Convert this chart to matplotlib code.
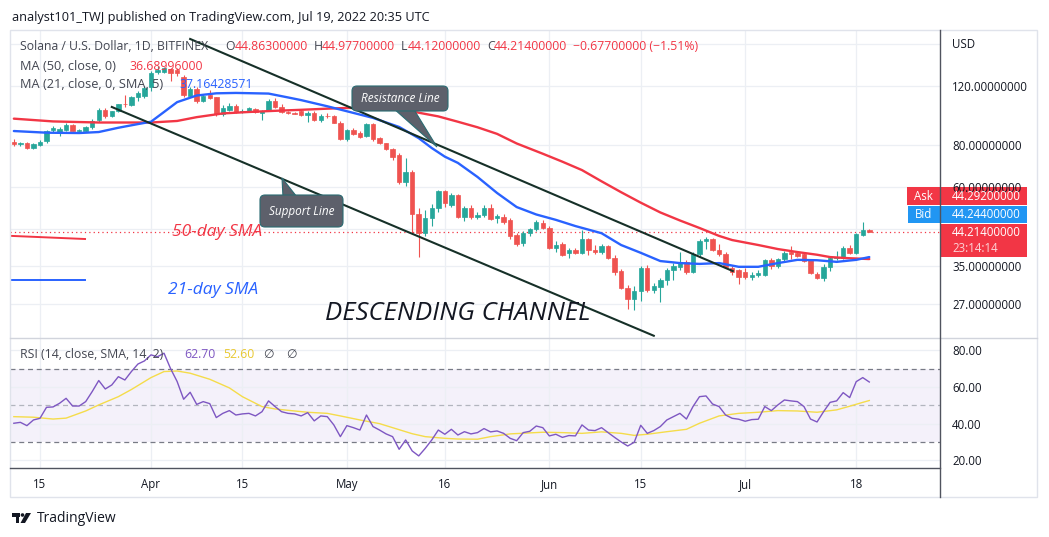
import numpy as np
import pandas as pd
import matplotlib
matplotlib.use('Agg')
import matplotlib.pyplot as plt
from matplotlib.patches import Rectangle, FancyBboxPatch, Polygon, Circle
from matplotlib.ticker import NullLocator

plt.rcParams['font.family'] = ['Open Sans', 'DejaVu Sans']

W, H = 1049, 537

# daily candles, SOL/USD Bitfinex
dates = pd.date_range('2022-03-11', '2022-07-20', freq='D')
base = pd.Timestamp('2022-04-01')
days = (dates - base).days.values

opens = [82, 80.5, 81, 78.5, 80.2, 82.5, 89, 87, 89, 92,
         88.3, 88, 90.5, 95, 102, 98, 101, 106.5, 105.5, 111,
         112, 119, 132, 132, 135, 134, 128, 112, 118, 108,
         113, 111, 99, 102, 104.5, 100.5, 101, 102.5, 100, 101.5,
         108, 104, 100.6, 100, 101, 98.5, 100, 95, 98, 97.5,
         93.5, 83.5, 89, 87, 85, 92.5, 84, 81, 78, 75,
         62, 66.5, 50, 44, 48.5, 52, 58.3, 53.3, 56.8, 49,
         52, 48.8, 49.5, 52, 48.6, 49, 48, 43.3, 40.9, 43.8,
         45, 47, 45.5, 39.6, 40.8, 38.2, 39, 38.3, 42, 39,
         38.6, 40, 37, 33.8, 30.2, 28, 29.5, 34.6, 29.7, 30.3,
         31.8, 34, 34.8, 36, 33.6, 38, 41.6, 42, 39, 38,
         34.5, 34, 33.6, 32.5, 33, 33, 36.5, 35, 36.6, 38.5,
         38.3, 38, 36.5, 33.2, 32.2, 34.7, 37, 37, 39.5, 38.2,
         43.4, 44.863]
highs = [83.5, 81.8, 81.6, 81, 83, 88.8, 91, 90.5, 93, 92.5,
         89.5, 91.5, 95.5, 103, 103.5, 101.5, 106.5, 113, 112, 116,
         120, 133, 138, 137, 136, 136, 129.5, 119.5, 119, 113,
         116.5, 111.5, 105.5, 107, 106, 102.5, 104, 103.5, 102, 109.5,
         110.5, 106, 101.5, 100.8, 101.8, 101, 101, 98.8, 100, 98.5,
         94.5, 89.5, 90, 88, 93.5, 93.5, 84.8, 81.5, 78.5, 75.8,
         73.5, 67.5, 52, 51.5, 53.5, 59, 58.8, 57.5, 57.2, 52.8,
         53, 50.5, 53.2, 53.5, 49.8, 50, 48.5, 44, 44.5, 45.3,
         48, 47.8, 46, 41.5, 41.2, 39.5, 39.7, 44.8, 42.5, 40.5,
         40.8, 40.5, 37.8, 34.2, 30.8, 30.5, 35, 35.3, 31.2, 32.3,
         34.4, 35.8, 38.5, 36.4, 38.4, 42.2, 42.8, 42.5, 40.7, 38.5,
         34.9, 34.3, 34.5, 33.6, 34, 36.8, 37, 37, 38.8, 40,
         38.8, 38.4, 36.6, 33.6, 35.5, 37.2, 38.7, 40, 40.3, 43.8,
         47.3, 44.977]
lows = [79.5, 79.8, 77.8, 78, 79.5, 81.5, 87.8, 85, 88.5, 88,
        87.5, 87.5, 89.5, 94, 96.5, 97, 100.5, 104, 104.5, 108.5,
        110.5, 116, 130, 131, 124, 129, 111.5, 111, 107, 107.5,
        109.5, 98, 98, 101, 99.5, 99.8, 100.5, 100, 95, 101,
        103.5, 99.5, 99, 98.8, 98, 94, 94.5, 94, 96.5, 93,
        83, 82.5, 86, 84, 84.5, 82.5, 80.5, 77.5, 72.5, 61.5,
        60.5, 44, 37.3, 43, 46, 50.5, 52.5, 52.5, 48.5, 47.5,
        48.3, 48.2, 49, 48, 47, 46.8, 42, 40.2, 40, 43,
        44.5, 45, 39.2, 38.5, 37.5, 37, 37.9, 38, 37.8, 38,
        38, 36.8, 33, 29.8, 26, 25.8, 27.5, 29.2, 29, 27.3,
        30.7, 31.7, 34, 33.2, 33.3, 37.6, 39.4, 38.7, 37.6, 34.5,
        33, 31, 32, 31.8, 32.5, 32.7, 34.2, 34.6, 36.3, 36.7,
        37.2, 36, 33.2, 32, 31.6, 33.8, 36.5, 36.8, 38, 38,
        43, 44.12]
closes = [80.5, 81, 78.5, 80.5, 82, 88, 90, 89.5, 92, 88.5,
          88.8, 90.5, 94.5, 102, 97.5, 101, 106, 105.8, 111, 114.5,
          118.5, 131, 134, 135.5, 131, 131, 113, 118, 108, 112,
          110.5, 99, 103, 104.5, 100.5, 101.5, 103, 100.8, 101.5, 108,
          104, 100.2, 100, 99.3, 98.5, 100, 95, 98, 97.5, 93.5,
          83.5, 89, 86.5, 84.5, 92.5, 83.5, 81, 78, 74, 62,
          66.5, 50, 44, 48.5, 52, 58.5, 54, 56.8, 49, 52,
          48.8, 49.5, 52, 48.4, 49.2, 47.3, 43, 40.7, 43.8, 45,
          47.2, 45.5, 39.6, 40.5, 37.8, 39, 38.3, 42, 39, 38.6,
          40, 37, 33.6, 30, 28, 29.5, 34.6, 29.7, 30.5, 31.8,
          34, 35, 36, 33.6, 38, 41.6, 42, 39, 38, 34.8,
          33.5, 32.5, 32.5, 33, 33.4, 36.5, 35, 36.7, 38.2, 37.9,
          37.5, 36.2, 33.4, 32.2, 34.8, 37, 37.3, 39.5, 38.2, 43.5,
          44.9, 44.214]

# moving averages
ma50_days = [-21, -15, -8, 0, 4, 7, 11, 15, 19, 23, 27, 30, 33, 36, 39, 41, 44, 47, 50, 53,
             56, 60, 63, 66, 69, 72, 75, 78, 81, 84, 87, 89, 93, 96, 99, 102, 104, 107, 110]
ma50_vals = [96, 94.2, 93.5, 93.5, 94.5, 97, 99.5, 100.5, 101.3, 102, 102.8, 103.3, 103.5, 103.3,
             102, 100, 97.5, 94, 90.5, 86.5, 81, 75.5, 71.5, 67.5, 62.5, 58, 54, 50.5, 47.8,
             45.4, 43, 41.8, 40.4, 39.3, 38.5, 37.8, 37.2, 36.9, 36.7]
ma21_days = [-21, -16, -11, -8, -5, -2, 0, 2, 4, 7, 10, 13, 18, 21, 23, 27, 30, 34, 38, 41, 43, 45,
             47, 50, 53, 56, 59, 62, 65, 69, 72, 75, 78, 81, 84, 87, 90, 93, 96, 99, 102, 105, 108, 110]
ma21_vals = [88.2, 87.2, 87, 87.6, 90.2, 92.5, 94, 100.5, 107.5, 112.5, 114.2, 114.5, 114, 111, 109,
             104.5, 101, 96.5, 90.7, 84, 78.5, 74, 70.9, 64.4, 57.7, 52.4, 49.8, 48, 46, 43.8, 40.4,
             38.3, 36.2, 35.7, 35.5, 35.7, 34.8, 34.8, 35.7, 36.5, 36.4, 36, 36.5, 37.2]

rsi_vals = [40.2, 40.7, 38.9, 42, 42.9, 48.9, 49.1, 51.1, 53.8, 49.6,
            49.6, 52, 57.5, 63.5, 58.9, 61.1, 65.6, 63.8, 68.4, 72.5,
            74.2, 77.5, 76.5, 78.4, 70, 63, 53.3, 57.1, 50.5, 52,
            50.9, 43.3, 45.6, 47.1, 44.7, 45.3, 45.6, 44.2, 46.5, 52.4,
            49.3, 46.5, 45.6, 45.3, 44.2, 46, 41.5, 44.2, 43.8, 39.3,
            32.9, 38.9, 37.8, 36.5, 44.7, 38.4, 36.5, 34.4, 32.9, 26,
            31.1, 25.1, 22.4, 26.5, 31.1, 36.5, 34.2, 36.9, 33.8, 35.6,
            34.4, 35.1, 37.3, 35.5, 36, 34.7, 32, 30.7, 35.1, 35.8,
            38.7, 37.8, 33.3, 34.2, 32.5, 33.5, 33.3, 39.3, 36.5, 36.2,
            37.8, 35.1, 32.5, 30, 27.8, 29.8, 39.1, 34.7, 36.2, 38.4,
            42, 43.8, 45.6, 42.5, 49.3, 54.7, 55.1, 50.7, 49.3, 44.7,
            42.9, 42.4, 41.3, 42.2, 42.4, 49.3, 47.1, 50.2, 52.9, 52.4,
            52, 49.3, 42.5, 40.9, 46.5, 51.6, 52.4, 56.9, 54.2, 62.9,
            65.1, 62.7]
rsi_sma_days = [-21, -18, -15, -13, -10, -8, -5, -3, 0, 2, 4, 6, 9, 12, 14, 17, 19, 22, 24, 27,
                29, 32, 35, 37, 40, 42, 45, 47, 50, 52, 55, 60, 63, 66, 69, 72, 74, 76, 79, 82,
                84, 87, 90, 93, 96, 99, 102, 105, 107, 109, 110]
rsi_sma_vals = [43.8, 43.5, 42.5, 43, 46.9, 50.2, 54.7, 58.6, 65.1, 68.4, 68.7, 67.5, 64.2, 59.5,
                54.7, 49.3, 48, 46.9, 46.2, 45.6, 44.2, 42, 40, 37.8, 34.5, 32.9, 32, 31.6, 31.5,
                32.9, 34.4, 35.3, 35.1, 34.7, 35.5, 34.7, 33.6, 34.2, 35.6, 36.9, 40.2, 44.2, 45.6,
                46.2, 47.1, 46.9, 46.2, 47.5, 49.5, 51.6, 52.6]

# drawn trend lines (day, price)
resist_line = ([6, 89.1], [165.7, 33.8])
support_line = ([-6, 77], [104, 21.7])
red_key = ([-21.3, -10.1], [43, 42.1])
blue_key = ([-21.3, -10.1], [31.8, 31.8])

last_price = 44.214
price_ticks = [27, 35, 45, 60, 80, 120, 160]
price_labels = ['27.00000000', '35.00000000', '', '', '80.00000000', '120.00000000', '']
tick_dates = ['2022-03-15', '2022-04-01', '2022-04-15', '2022-05-01', '2022-05-16',
              '2022-06-01', '2022-06-15', '2022-07-01', '2022-07-18']
tick_labels = ['15', 'Apr', '15', 'May', '16', 'Jun', '15', 'Jul', '18']
tick_days = [(pd.Timestamp(t) - base).days for t in tick_dates]

GREEN = '#26a69a'
RED = '#ef5350'
TXT = '#131722'
GRID = '#eceff4'

fig = plt.figure(figsize=(W / 100, H / 100), dpi=100)
fig.patch.set_facecolor('white')

ax = fig.add_axes([10 / W, 1 - 338 / H, 930 / W, 308 / H])
rsi = fig.add_axes([10 / W, 1 - 468 / H, 930 / W, 130 / H], sharex=ax)

# ---- price pane
o = np.array(opens); h = np.array(highs); l = np.array(lows); c = np.array(closes)
cols = np.where(c >= o, GREEN, RED)
ax.vlines(days, l, h, colors=cols, lw=0.8, zorder=3)
ax.bar(days, np.abs(c - o), bottom=np.minimum(o, c), width=0.68, color=cols,
       edgecolor=cols, lw=0.5, zorder=4)
ax.plot(ma50_days, ma50_vals, color='#f23645', lw=1.7, zorder=5, solid_capstyle='round')
ax.plot(ma21_days, ma21_vals, color='#2962ff', lw=1.7, zorder=5, solid_capstyle='round')
ax.plot(*resist_line, color='#163028', lw=1.5, zorder=6)
ax.plot(*support_line, color='#163028', lw=1.5, zorder=6)
ax.plot(*red_key, color='#f23645', lw=1.4)
ax.plot(*blue_key, color='#2962ff', lw=1.4)
ax.axhline(last_price, color='#f23645', ls=(0, (1, 2.5)), lw=0.9, zorder=2)

ax.set_yscale('log')
ax.set_ylim(21.37, 176.2)
ax.set_xlim(-21.59, 120.83)
ax.yaxis.tick_right()
ax.set_yticks(price_ticks, price_labels)
ax.yaxis.set_minor_locator(NullLocator())
ax.set_xticks(tick_days)
ax.tick_params(axis='y', length=0, pad=8.6, labelsize=8.3, labelcolor=TXT)
ax.tick_params(axis='x', length=0, labelbottom=False)
ax.grid(True, color=GRID, lw=0.9, zorder=0)
for s in ax.spines.values():
    s.set_visible(False)

# ---- RSI pane
rsi.axhspan(30, 70, color='#7e57c2', alpha=0.08, lw=0)
for lv in (70, 30):
    rsi.axhline(lv, color='#787b86', ls=(0, (4, 3)), lw=0.9)
rsi.axhline(50, color='#b2b5be', ls=(0, (4, 3)), lw=0.9)
rsi.plot(days, rsi_vals, color='#7e57c2', lw=1.0, zorder=4)
rsi.plot(rsi_sma_days, rsi_sma_vals, color='#f5dc4a', lw=1.0, zorder=3)
rsi.set_ylim(15.8, 86.7)
rsi.yaxis.tick_right()
rsi.set_yticks([20, 40, 60, 80], ['20.00', '40.00', '60.00', '80.00'])
rsi.set_xticks(tick_days, tick_labels)
rsi.tick_params(axis='y', length=0, pad=8.6, labelsize=8.3, labelcolor=TXT)
rsi.tick_params(axis='x', length=0, pad=7, labelsize=8.3, labelcolor=TXT)
rsi.grid(True, color=GRID, lw=0.9, zorder=0)
for s in rsi.spines.values():
    s.set_visible(False)

# ---- overlay in pixel coordinates
ov = fig.add_axes([0, 0, 1, 1], zorder=10)
ov.set_xlim(0, W)
ov.set_ylim(H, 0)
ov.axis('off')
ov.patch.set_alpha(0)

ov.add_patch(Rectangle((10, 30), 1027, 467, fill=False, ec='#e0e3eb', lw=1))
ov.plot([10, 1037], [338, 338], color='#d1d4dc', lw=1)
ov.plot([10, 940], [468, 468], color='#50535e', lw=1)
ov.plot([940, 940], [30, 497], color='#50535e', lw=1)

ov.text(12, 17, 'analyst101_TWJ published on TradingView.com, Jul 19, 2022 20:35 UTC',
        fontsize=9.2, color=TXT, va='center')

LG = '#434651'
fs = 8.8
ov.text(20, 46, 'Solana / U.S. Dollar, 1D, BITFINEX', fontsize=fs, color=LG, va='center')
for lab, xl, val, xv in [('O', 225, '44.86300000', 235), ('H', 314, '44.97700000', 322),
                         ('L', 401, '44.12000000', 408), ('C', 487, '44.21400000', 494)]:
    ov.text(xl, 46, lab, fontsize=fs, color=LG, va='center')
    ov.text(xv, 46, val, fontsize=fs, color='#f23645', va='center')
ov.text(573, 46, '\u22120.67700000 (\u22121.51%)', fontsize=fs, color='#f23645', va='center')
ov.text(20, 66, 'MA (50, close, 0)', fontsize=9.2, color=LG, va='center')
ov.text(129, 66, '36.68996000', fontsize=fs, color='#f23645', va='center')
ov.text(20, 85, 'MA (21, close, 0, SMA, 5)', fontsize=9.2, color=LG, va='center')
ov.text(179, 85, '37.16428571', fontsize=fs, color='#2962ff', va='center')
ov.text(20, 355, 'RSI (14, close, SMA, 14, 2)', fontsize=fs, color=LG, va='center')
ov.text(184, 355, '62.70', fontsize=fs, color='#7e57c2', va='center')
ov.text(223, 355, '52.60', fontsize=fs, color='#e8c832', va='center')
ov.text(263, 355, '\u2205', fontsize=fs, color=LG, va='center', family=['DejaVu Sans'])
ov.text(286, 355, '\u2205', fontsize=fs, color=LG, va='center', family=['DejaVu Sans'])

ov.text(952, 44, 'USD', fontsize=8.3, color=TXT, va='center')

# price labels on the scale (60 label peeks out above the Ask box)
ov.text(952, 188, '60.00000000', fontsize=8.3, color=TXT, va='center')
ov.add_patch(Rectangle((907, 187), 33, 18, color='#f23645', lw=0))
ov.add_patch(Rectangle((940, 187), 87, 18, color='#f23645', lw=0))
ov.add_patch(Rectangle((908, 206), 32, 17, color='#2196f3', lw=0))
ov.add_patch(Rectangle((940, 206), 87, 17, color='#2196f3', lw=0))
ov.add_patch(Rectangle((940, 224), 87, 33, color='#f23645', lw=0))
ov.text(923.5, 196, 'Ask', fontsize=8.3, color='white', ha='center', va='center')
ov.text(952, 196, '44.29200000', fontsize=8.3, color='white', va='center')
ov.text(924, 214.5, 'Bid', fontsize=8.3, color='white', ha='center', va='center')
ov.text(952, 214.5, '44.24400000', fontsize=8.3, color='white', va='center')
ov.text(952, 232, '44.21400000', fontsize=8.3, color='white', va='center')
ov.text(952, 248, '23:14:14', fontsize=8.3, color='#fcd3d6', va='center')

# callouts
BOX = '#5d606b'
EDGE = '#2a6b72'
ov.add_patch(Polygon([(393, 108), (413, 108), (437, 147)], closed=True, fc=BOX, ec=EDGE, lw=0.8))
ov.add_patch(FancyBboxPatch((352, 86), 96, 25, boxstyle='round,pad=0,rounding_size=5',
                            fc=BOX, ec=EDGE, lw=0.8))
ov.text(400, 98.5, 'Resistance Line', fontsize=8.5, color='white', style='italic',
        ha='center', va='center')
ov.add_patch(Polygon([(283, 197), (297, 197), (282, 178)], closed=True, fc=BOX, ec=EDGE, lw=0.8))
ov.add_patch(FancyBboxPatch((260, 195), 83, 32, boxstyle='round,pad=0,rounding_size=5',
                            fc=BOX, ec=EDGE, lw=0.8))
ov.text(301.5, 211, 'Support Line', fontsize=8.5, color='white', style='italic',
        ha='center', va='center')

ov.text(217, 232, '50-day SMA', fontsize=12.5, color='#f23645', style='italic',
        ha='center', va='center')
ov.text(213, 290, '21-day SMA', fontsize=12.5, color='#2962ff', style='italic',
        ha='center', va='center')
ov.text(458, 313, 'DESCENDING CHANNEL', fontsize=18.5, color='#131722', style='italic',
        ha='center', va='center')

# TradingView mark
ov.add_patch(Rectangle((12, 513), 8, 3.5, color=TXT, lw=0))
ov.add_patch(Rectangle((15.5, 513), 3.5, 10, color=TXT, lw=0))
ov.add_patch(Circle((22.5, 515), 1.8, color=TXT, lw=0))
ov.add_patch(Polygon([(26, 513), (31, 513), (25, 523), (20.5, 523)], closed=True, color=TXT, lw=0))
ov.text(37, 518, 'TradingView', fontsize=10, color=TXT, va='center')

fig.savefig('out.png', dpi=100)
